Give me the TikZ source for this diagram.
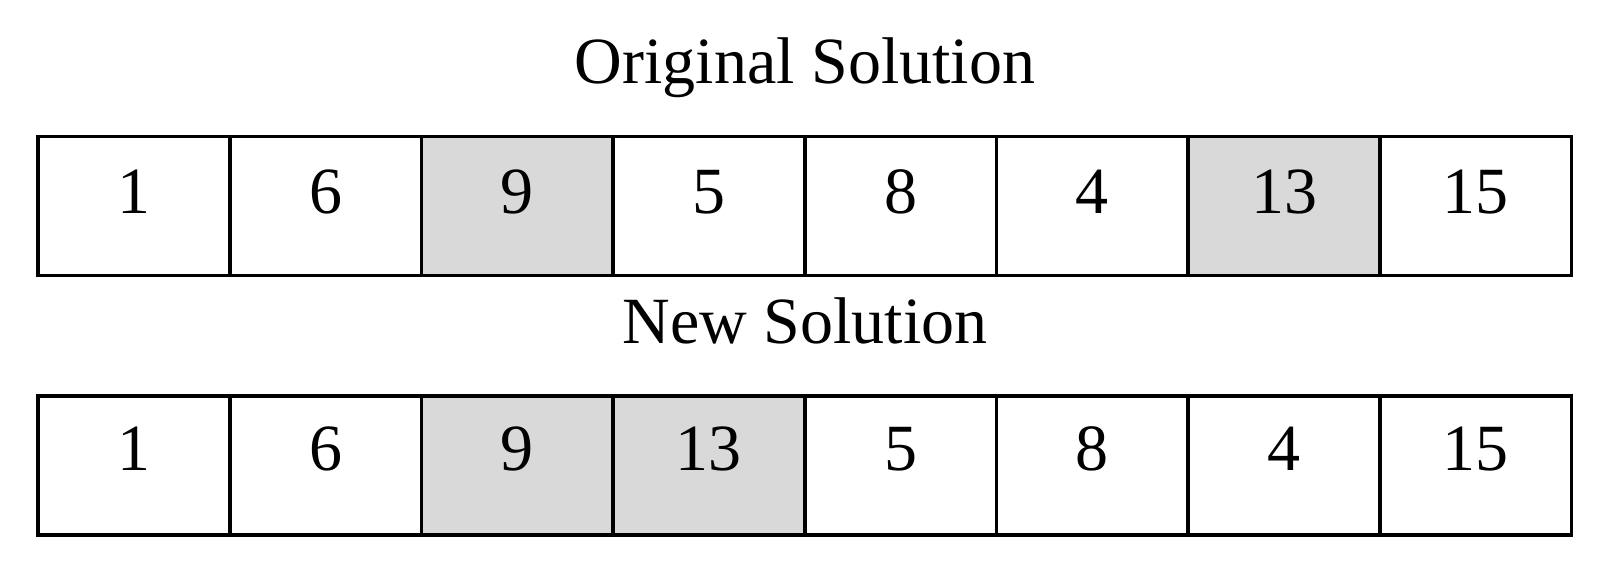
\documentclass[tikz,border=0pt]{standalone}
\usepackage{fontspec}
\setmainfont{Liberation Serif}
\definecolor{cellgray}{HTML}{D9D9D9}
\begin{document}
\begin{tikzpicture}[x=1pt,y=-1pt,
  cellbox/.style={draw=black,line width=3.6pt,minimum width=191.7pt,minimum height=139pt,inner sep=0pt,outer sep=0pt,anchor=north west},
  hl/.style={fill=cellgray},
  num/.style={anchor=base,inner sep=0pt,font=\fontsize{66}{70}\selectfont},
  title/.style={anchor=base,inner sep=0pt,font=\fontsize{66}{70}\selectfont}]
\useasboundingbox (0,0) rectangle (1600,577);
\node[title] (t1) at (805,84) {Original Solution};
\node[title] (t2) at (805,343) {New Solution};
% original row
\foreach \v/\s [count=\i] in {1/,6/,9/hl,5/,8/,4/,13/hl,15/}{
  \node[cellbox,\s] (o\i) at ({38+(\i-1)*191.7},136.5) {};
  \node[num] (ot\i) at ([yshift=62pt]o\i.south) {\v};
}
% new row
\foreach \v/\s [count=\i] in {1/,6/,9/hl,13/hl,5/,8/,4/,15/}{
  \node[cellbox,\s] (n\i) at ({38+(\i-1)*191.7},396) {};
  \node[num] (nt\i) at ([yshift=65pt]n\i.south) {\v};
}
\end{tikzpicture}
\end{document}
